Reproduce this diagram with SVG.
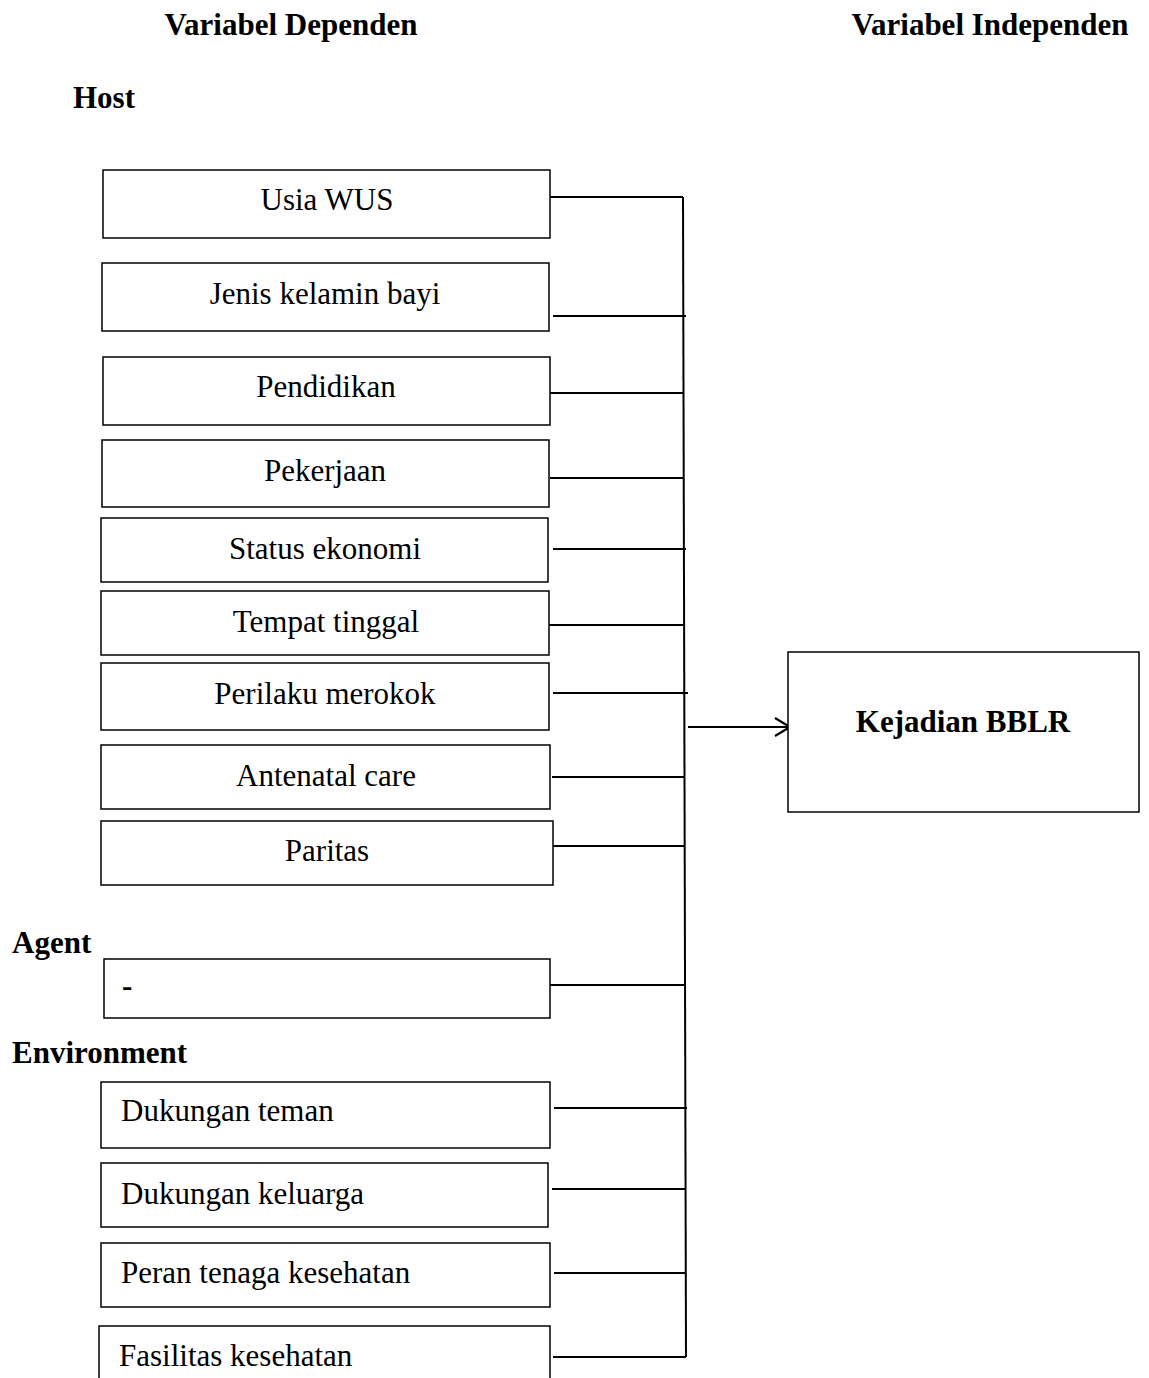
<svg xmlns="http://www.w3.org/2000/svg" width="1149" height="1378" viewBox="0 0 1149 1378">
<style>
.bx{fill:#fff;stroke:#000;stroke-width:1.5}
.t{font-family:"Liberation Serif","Times New Roman",serif;font-size:31px;fill:#000}
.c{text-anchor:middle}
.b{font-weight:bold}
.ln{stroke:#000;stroke-width:2;fill:none}
</style>
<defs>
<marker id="ah" markerWidth="20" markerHeight="22" refX="16" refY="11" orient="auto" markerUnits="userSpaceOnUse">
<path d="M1,2 L16,11 L1,20" fill="none" stroke="#000" stroke-width="2.2"/>
</marker>
</defs>
<rect width="1149" height="1378" fill="#fff"/>
<text class="t b c" x="291" y="35">Variabel Dependen</text>
<text class="t b c" x="990" y="35">Variabel Independen</text>
<text class="t b" x="73" y="108">Host</text>
<text class="t b" x="12" y="953">Agent</text>
<text class="t b" x="12" y="1063">Environment</text>
<g id="connectors">
<line class="ln" x1="683" y1="197" x2="686" y2="1357"/>
<line class="ln" x1="550" y1="197" x2="683" y2="197"/>
<line class="ln" x1="553" y1="316" x2="686" y2="316"/>
<line class="ln" x1="550" y1="393" x2="683" y2="393"/>
<line class="ln" x1="550" y1="478" x2="684" y2="478"/>
<line class="ln" x1="553" y1="549" x2="686" y2="549"/>
<line class="ln" x1="549" y1="625" x2="684" y2="625"/>
<line class="ln" x1="553" y1="693" x2="688" y2="693"/>
<line class="ln" x1="552" y1="777" x2="685" y2="777"/>
<line class="ln" x1="552" y1="846" x2="685" y2="846"/>
<line class="ln" x1="550" y1="985" x2="685" y2="985"/>
<line class="ln" x1="554" y1="1108" x2="687" y2="1108"/>
<line class="ln" x1="552" y1="1189" x2="686" y2="1189"/>
<line class="ln" x1="554" y1="1273" x2="686" y2="1273"/>
<line class="ln" x1="553" y1="1357" x2="686" y2="1357"/>
<line class="ln" x1="688" y1="727" x2="790" y2="727" marker-end="url(#ah)"/>
</g>
<g id="n-usia"><rect class="bx" x="103" y="170" width="447" height="68"/><text class="t c" x="327" y="210">Usia WUS</text></g>
<g id="n-jenis"><rect class="bx" x="102" y="263" width="447" height="68"/><text class="t c" x="325" y="304">Jenis kelamin bayi</text></g>
<g id="n-pendidikan"><rect class="bx" x="103" y="357" width="447" height="68"/><text class="t c" x="326" y="397">Pendidikan</text></g>
<g id="n-pekerjaan"><rect class="bx" x="102" y="440" width="447" height="67"/><text class="t c" x="325" y="481">Pekerjaan</text></g>
<g id="n-status"><rect class="bx" x="101" y="518" width="447" height="64"/><text class="t c" x="325" y="559">Status ekonomi</text></g>
<g id="n-tempat"><rect class="bx" x="101" y="591" width="448" height="64"/><text class="t c" x="326" y="632">Tempat tinggal</text></g>
<g id="n-perilaku"><rect class="bx" x="101" y="663" width="448" height="67"/><text class="t c" x="325" y="704">Perilaku merokok</text></g>
<g id="n-antenatal"><rect class="bx" x="101" y="745" width="449" height="64"/><text class="t c" x="326" y="786">Antenatal care</text></g>
<g id="n-paritas"><rect class="bx" x="101" y="821" width="452" height="64"/><text class="t c" x="327" y="861">Paritas</text></g>
<g id="n-agent"><rect class="bx" x="104" y="959" width="446" height="59"/><text class="t b" x="122" y="996">-</text></g>
<g id="n-teman"><rect class="bx" x="101" y="1082" width="449" height="66"/><text class="t" x="121" y="1121">Dukungan teman</text></g>
<g id="n-keluarga"><rect class="bx" x="101" y="1163" width="447" height="64"/><text class="t" x="121" y="1204">Dukungan keluarga</text></g>
<g id="n-peran"><rect class="bx" x="101" y="1243" width="449" height="64"/><text class="t" x="121" y="1283">Peran tenaga kesehatan</text></g>
<g id="n-fasilitas"><rect class="bx" x="99" y="1326" width="451" height="80"/><text class="t" x="119" y="1366">Fasilitas kesehatan</text></g>
<g id="n-bblr"><rect class="bx" x="788" y="652" width="351" height="160"/><text class="t b c" x="963" y="732">Kejadian BBLR</text></g>
</svg>
